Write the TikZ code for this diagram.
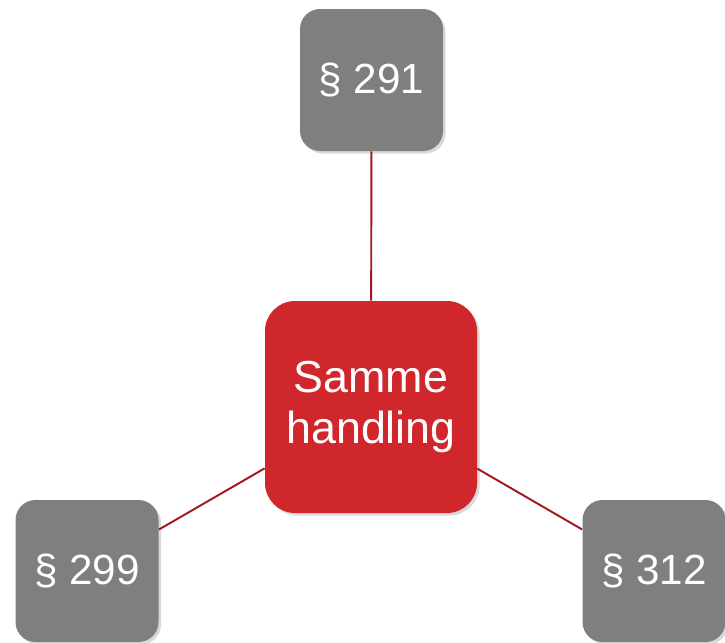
\documentclass[tikz,border=0pt]{standalone}
\usepackage{fontspec}
\setmainfont{Liberation Sans}
\usetikzlibrary{shadows}
\definecolor{boxgray}{HTML}{7F7F7F}
\definecolor{boxred}{HTML}{D0272D}
\definecolor{linered}{HTML}{A3161F}

\tikzset{
  lawbox/.style={fill=boxgray, text=white, rounded corners=0.4cm, minimum width=2.86cm, minimum height=2.84cm, inner sep=0pt, font=\fontsize{24}{28}\selectfont, drop shadow={shadow xshift=0.05cm, shadow yshift=-0.05cm, opacity=0.3}},
  actbox/.style={fill=boxred, text=white, rounded corners=0.6cm, minimum width=4.24cm, minimum height=4.24cm, inner sep=0pt, align=center, font=\fontsize{25.5}{29.5}\selectfont, drop shadow={shadow xshift=0.05cm, shadow yshift=-0.05cm, opacity=0.3}},
  link/.style={linered, line width=1.1pt}
}

\begin{document}
\begin{tikzpicture}
\useasboundingbox (0,0) rectangle (14.5,-12.84);

\node [actbox] (act) at (7.42,-8.14) {Samme\\handling};

\node [lawbox] (top) at (7.43,-1.6) {§ 291};
\node [lawbox] (left) at (1.74,-11.42) {§ 299};
\node [lawbox] (right) at (13.08,-11.42) {§ 312};

\draw [link] (act) -- (top);
\draw [link] (act) -- (left);
\draw [link] (act) -- (right);
\end{tikzpicture}
\end{document}
